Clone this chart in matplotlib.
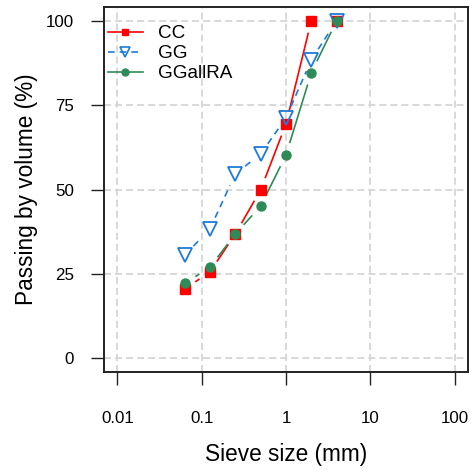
import numpy as np
import matplotlib
matplotlib.use("Agg")
import matplotlib.pyplot as plt
from matplotlib.lines import Line2D

plt.rcParams['font.family'] = ['Liberation Sans', 'DejaVu Sans']

sieve = [0.063, 0.125, 0.25, 0.5, 1, 2, 4]
cc = [20.6, 25.6, 36.8, 49.9, 69.4, 100, 100]
gg = [30.6, 38.3, 54.6, 60.5, 71.2, 88.4, 100]
ggallra = [22.2, 27.0, 36.8, 45.1, 60.2, 84.6, 100]
xticks = [0.01, 0.1, 1, 10, 100]
xticklabels = ['0.01', '0.1', '1', '10', '100']
yticks = [0, 25, 50, 75, 100]

RED = '#FF0000'
BLUE = '#1C7BD8'
GREEN = '#2E8B57'

fig = plt.figure(figsize=(4.74, 4.72), dpi=100)
ax = fig.add_axes([104/474, 1-372/472, (468-104)/474, (372-7)/472])
ax.set_xscale('log')
ax.set_xlim(10**-2.16, 10**2.16)
ax.set_ylim(-4, 104)

for t in xticks:
    ax.axvline(t, color='#d6d6d6', lw=1.3, dashes=(3.9, 2.2), zorder=0)
for t in yticks:
    ax.axhline(t, color='#d6d6d6', lw=1.3, dashes=(3.9, 2.2), zorder=0)

def gapped(x, y, gap_px, **kw):
    pts = ax.transData.transform(np.column_stack([x, y]))
    inv = ax.transData.inverted()
    for i in range(len(pts) - 1):
        p0, p1 = pts[i], pts[i+1]
        d = p1 - p0
        L = np.hypot(*d)
        if L <= 2 * gap_px:
            continue
        u = d / L
        a = p0 + u * gap_px
        b = p1 - u * gap_px
        seg = inv.transform(np.array([a, b]))
        ax.plot(seg[:, 0], seg[:, 1], **kw)

gap = 12.5
gapped(sieve, cc, gap, color=RED, lw=1.2, solid_capstyle='butt')
gapped(sieve, gg, gap, color=BLUE, lw=1.2, dashes=(4, 3))
gapped(sieve, ggallra, gap, color=GREEN, lw=1.2, solid_capstyle='butt')

ax.plot(sieve, cc, ls='none', marker='s', ms=7, color=RED, mec=RED, zorder=3)
ax.plot(sieve, gg, ls='none', marker='v', ms=10, mfc='none', mec=BLUE, mew=1.3, zorder=3)
ax.plot(sieve, ggallra, ls='none', marker='o', ms=6.5, color=GREEN, mec=GREEN, zorder=4)

handles = [
    Line2D([], [], color=RED, lw=1.2, marker='s', ms=5),
    Line2D([], [], color=BLUE, lw=1.2, dashes=(4, 3), marker='v', ms=7, mfc='none', mew=1.2),
    Line2D([], [], color=GREEN, lw=1.2, marker='o', ms=5),
]
ax.legend(handles, ['CC', 'GG', 'GGallRA'], loc='upper left', frameon=False,
          fontsize=13.6, handlelength=1.85, handletextpad=0.8, labelspacing=0.15,
          bbox_to_anchor=(4/364, 1 - 18/365), borderaxespad=0, borderpad=0)

ax.set_xticks(xticks)
ax.set_xticklabels(xticklabels)
ax.minorticks_off()
ax.set_yticks(yticks)
ax.tick_params(axis='both', direction='out', length=9.5, width=1.0, labelsize=12.2, color='#222222')
ax.tick_params(axis='x', pad=18.5)
ax.tick_params(axis='y', pad=12)
for s in ax.spines.values():
    s.set_linewidth(1.4)
    s.set_color('#222222')

ax.set_xlabel('Sieve size (mm)', fontsize=16.3, labelpad=12.5)
ax.set_ylabel('Passing by volume (%)', fontsize=16.3, labelpad=6)

fig.savefig('out.png', dpi=100)
